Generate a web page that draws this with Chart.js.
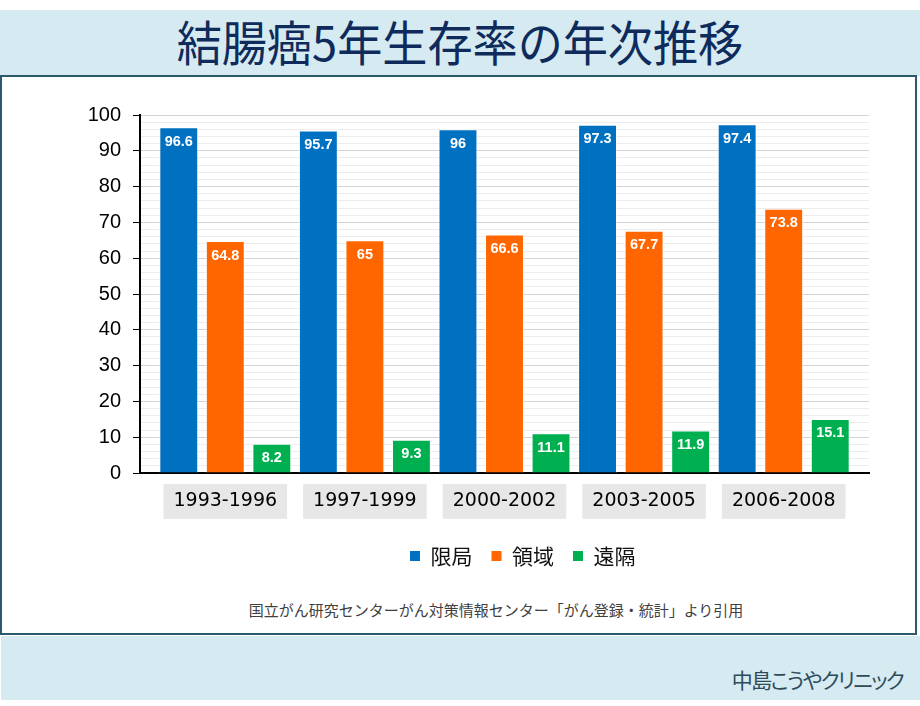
<!DOCTYPE html>
<html><head><meta charset="utf-8">
<script src="https://cdn.jsdelivr.net/npm/chart.js@4.4.1/dist/chart.umd.min.js"></script>
<style>
html,body{margin:0;padding:0;background:#fff;}
#page{position:relative;width:920px;height:706px;overflow:hidden;background:#fff;font-family:"Noto Sans CJK JP",sans-serif;}
#topband{position:absolute;left:0;top:10px;width:920px;height:66px;background:#d5eaf1;}
#title{position:absolute;left:0;top:8px;width:920px;height:64px;line-height:64px;text-align:center;font-size:48px;font-weight:400;color:#0e2b5c;white-space:nowrap;transform:scaleX(0.94);transform-origin:460px 32px;}
#panel{position:absolute;left:0;top:75px;width:913px;height:556px;border:2px solid #2b5b6b;background:#fff;}
#botband{position:absolute;left:1px;top:636px;width:919px;height:64px;background:#d5eaf1;}
#source{position:absolute;left:0;width:992px;top:599px;line-height:22px;text-align:center;font-size:15px;color:#404040;white-space:nowrap;}
#clinic{position:absolute;right:17px;top:664px;line-height:30px;font-size:21px;letter-spacing:-1.7px;color:#2f4b5a;font-feature-settings:"palt";white-space:nowrap;}
#c{position:absolute;left:0;top:0;}
</style></head>
<body>
<div id="page">
  <div id="topband"></div>
  <div id="title">結腸癌5年生存率の年次推移</div>
  <div id="panel"></div>
  <div id="botband"></div>
  <div id="source">国立がん研究センターがん対策情報センター「がん登録・統計」より引用</div>
  <div id="clinic">中島こうやクリニック</div>
  <canvas id="c" width="920" height="706"></canvas>
</div>
<script>
const periods = ['1993-1996', '1997-1999', '2000-2002', '2003-2005', '2006-2008'];
const seriesNames = ['限局', '領域', '遠隔'];
const localized = [96.6, 95.7, 96, 97.3, 97.4];
const regional = [64.8, 65, 66.6, 67.7, 73.8];
const distant = [8.2, 9.3, 11.1, 11.9, 15.1];
const yMin = 0, yMax = 100, yMajorStep = 10, yMinorStep = 2;

const seriesValues = [localized, regional, distant];
const colors = ['#0070c0', '#ff6600', '#00b050'];
const xPad = 0.111;

const valueLabels = {
  id: 'valueLabels',
  afterDatasetsDraw(chart) {
    const ctx = chart.ctx;
    ctx.save();
    ctx.font = 'bold 14.5px "Liberation Sans", Arial, sans-serif';
    ctx.fillStyle = '#ffffff';
    ctx.textAlign = 'center';
    ctx.textBaseline = 'middle';
    chart.data.datasets.forEach((ds, k) => {
      chart.getDatasetMeta(k).data.forEach((bar, i) => {
        ctx.fillText(String(ds.data[i]), bar.x, bar.y + 14.5);
      });
    });
    ctx.restore();
  }
};

const legendShift = {
  id: 'legendShift',
  afterLayout(chart) {
    const lg = chart.legend;
    if (!lg) return;
    const w = lg.right - lg.left;
    const c = 522.75;
    lg.left = c - w / 2;
    lg.right = c + w / 2;
  }
};

new Chart(document.getElementById('c'), {
  type: 'bar',
  data: {
    labels: periods.map((p, i) => i),
    datasets: seriesNames.map((n, k) => ({
      label: n,
      data: seriesValues[k],
      backgroundColor: colors[k],
      borderColor: 'rgba(255,255,255,0.75)',
      borderWidth: 1,
      categoryPercentage: 1,
      barPercentage: 0.836
    }))
  },
  options: {
    responsive: false,
    animation: false,
    devicePixelRatio: 1,
    layout: { padding: { left: 0, top: 115, right: 51, bottom: 129.5 } },
    plugins: {
      tooltip: { enabled: false },
      legend: {
        position: 'bottom',
        labels: {
          boxWidth: 10, boxHeight: 10, padding: 19, color: '#111',
          font: { family: '"Noto Sans CJK JP"', size: 21 },
          generateLabels: (chart) => Chart.defaults.plugins.legend.labels.generateLabels(chart)
            .map(l => Object.assign({}, l, { lineWidth: 0, strokeStyle: l.fillStyle }))
        }
      }
    },
    scales: {
      x: {
        type: 'linear',
        offset: false,
        min: -0.5 - xPad,
        max: periods.length - 0.5 + xPad,
        afterBuildTicks: s => { s.ticks = periods.map((p, i) => ({ value: i })); },
        afterFit: s => { s.height = 53.5; },
        grid: { display: false, drawTicks: false },
        border: { display: true, color: '#000', width: 2 },
        ticks: {
          autoSkip: false, maxRotation: 0, minRotation: 0, padding: 17,
          callback: v => periods[v],
          font: { family: '"DejaVu Sans"', size: 19 },
          color: '#000',
          showLabelBackdrop: true,
          backdropColor: '#e7e7e7',
          backdropPadding: { left: 10, right: 10, top: 6, bottom: 6 }
        }
      },
      y: {
        min: yMin, max: yMax,
        afterFit: s => { s.width = 140; },
        ticks: {
          stepSize: yMinorStep, autoSkip: false, padding: 12,
          callback: v => (v % yMajorStep === 0 ? String(v) : ''),
          font: { family: '"Liberation Sans", Arial', size: 20 },
          color: '#000'
        },
        grid: {
          color: c => (c.tick && c.tick.value % yMajorStep === 0 ? '#d4d4d4' : '#ececec'),
          tickColor: c => (c.tick && c.tick.value % yMajorStep === 0 ? '#000' : 'rgba(0,0,0,0)'),
          tickLength: 7,
          lineWidth: 1
        },
        border: { display: true, color: '#000', width: 2 }
      }
    }
  },
  plugins: [legendShift, valueLabels]
});
</script>
</body></html>
